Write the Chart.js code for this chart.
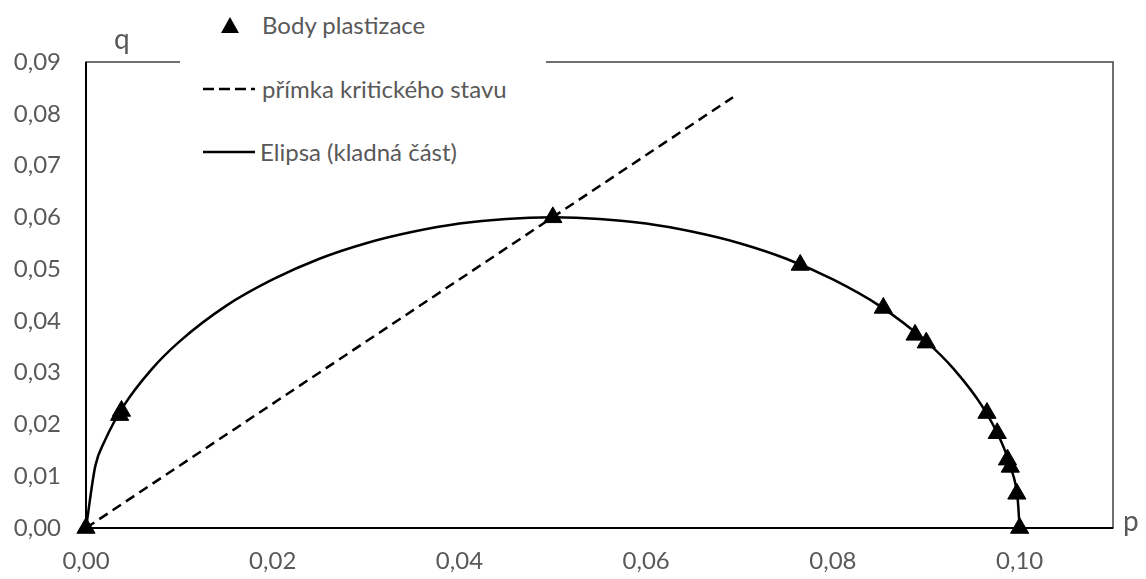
<!DOCTYPE html>
<html>
<head>
<meta charset="utf-8">
<script src="https://cdn.jsdelivr.net/npm/chart.js@4"></script>
<style>
  body { margin: 0; background: #fff; }
  #wrap { position: relative; width: 1146px; height: 579px; font-family: Lato, "Open Sans", sans-serif; color: #595959; }
  #legenda { position: absolute; left: 180px; top: 0; width: 366px; height: 176px; background: #fff; }
  .polozka { position: absolute; font-size: 24px; white-space: nowrap; line-height: 30px; height: 30px; }
  .vzorek { position: absolute; }
  .osa { position: absolute; font-size: 28px; line-height: 34px; }
</style>
</head>
<body>
<div id="wrap">
  <canvas id="graf" width="1146" height="579"></canvas>
  <div id="legenda"></div>
  <div class="osa" style="left:114px; top:21px;">q</div>
  <div class="osa" style="left:1123px; top:503px;">p</div>
</div>
<script>
// body plastizace (trojúhelníky)
const bodyP = [0, 0.0036, 0.0038, 0.05, 0.0765, 0.0854, 0.0888, 0.0900, 0.0965, 0.0976, 0.0987, 0.0990, 0.0997, 0.1];
const bodyQ = [0, 0.0218, 0.0226, 0.06, 0.0508, 0.0425, 0.0373, 0.0358, 0.0222, 0.0183, 0.0132, 0.0118, 0.0066, 0];

// přímka kritického stavu
const primkaP = [0, 0.0693];
const primkaQ = [0, 0.0832];

// elipsa (kladná část)
const elipsaP = [0, 0.001, 0.002, 0.004, 0.007, 0.01, 0.015, 0.02, 0.025, 0.03, 0.035, 0.04, 0.045, 0.05,
                 0.055, 0.06, 0.065, 0.07, 0.075, 0.08, 0.085, 0.09, 0.093, 0.096, 0.098, 0.099, 0.0998, 0.1];
const elipsaQ = [0, 0.012, 0.0168, 0.0235, 0.0306, 0.036, 0.0429, 0.048, 0.052, 0.055, 0.0572, 0.0588, 0.0597, 0.06,
                 0.0597, 0.0588, 0.0572, 0.055, 0.052, 0.048, 0.0429, 0.036, 0.0306, 0.0235, 0.0168, 0.0119, 0.0054, 0];

const xTicks = [0, 0.02, 0.04, 0.06, 0.08, 0.10];
const xTickLabels = ['0,00', '0,02', '0,04', '0,06', '0,08', '0,10'];
const yTicks = [0, 0.01, 0.02, 0.03, 0.04, 0.05, 0.06, 0.07, 0.08, 0.09];
const yTickLabels = ['0,00', '0,01', '0,02', '0,03', '0,04', '0,05', '0,06', '0,07', '0,08', '0,09'];

const nazvy = ['Body plastizace', 'přímka kritického stavu', 'Elipsa (kladná část)'];

function body(xs, ys) {
  return xs.map((x, i) => ({ x: x, y: ys[i] }));
}

// rámeček kolem plochy grafu
const ramecek = {
  id: 'ramecek',
  beforeDatasetsDraw(chart) {
    const a = chart.chartArea;
    const ctx = chart.ctx;
    ctx.save();
    ctx.strokeStyle = '#404040';
    ctx.lineWidth = 1.5;
    ctx.strokeRect(a.left, a.top, a.right - a.left, a.bottom - a.top);
    ctx.strokeStyle = '#000';
    ctx.lineWidth = 2;
    ctx.beginPath();
    ctx.moveTo(a.left, a.top);
    ctx.lineTo(a.left, a.bottom);
    ctx.lineTo(a.right, a.bottom);
    ctx.stroke();
    ctx.restore();
  }
};

const pismo = { family: 'Lato, "Open Sans", sans-serif', size: 24 };

new Chart(document.getElementById('graf'), {
  type: 'scatter',
  data: {
    datasets: [
      {
        label: nazvy[0],
        data: body(bodyP, bodyQ),
        pointStyle: 'triangle',
        pointRadius: 10.5,
        pointBackgroundColor: '#000',
        pointBorderColor: '#000',
        showLine: false,
        clip: false
      },
      {
        label: nazvy[1],
        data: body(primkaP, primkaQ),
        showLine: true,
        borderColor: '#000',
        borderWidth: 2.5,
        borderDash: [10, 6],
        pointRadius: 0
      },
      {
        label: nazvy[2],
        data: body(elipsaP, elipsaQ),
        showLine: true,
        borderColor: '#000',
        borderWidth: 2.5,
        cubicInterpolationMode: 'monotone',
        pointRadius: 0
      }
    ]
  },
  options: {
    responsive: false,
    animation: false,
    layout: { padding: { left: 0, top: 62, right: 33, bottom: 0 } },
    plugins: { legend: { display: false }, tooltip: { enabled: false } },
    scales: {
      x: {
        type: 'linear',
        min: 0,
        max: 0.11,
        afterBuildTicks: s => { s.ticks = xTicks.map(v => ({ value: v })); },
        afterFit: s => { s.height = 51; },
        grid: { display: false },
        border: { display: false },
        ticks: {
          padding: 11,
          color: '#595959',
          font: pismo,
          callback: (v, i) => xTickLabels[i]
        }
      },
      y: {
        min: 0,
        max: 0.09,
        afterBuildTicks: s => { s.ticks = yTicks.map(v => ({ value: v })); },
        afterFit: s => { s.width = 86; },
        grid: { display: false },
        border: { display: false },
        ticks: {
          padding: 17,
          color: '#595959',
          font: pismo,
          callback: (v, i) => yTickLabels[i]
        }
      }
    }
  },
  plugins: [ramecek]
});

// legenda
const legenda = document.getElementById('legenda');
const polozky = [
  { stred: 25, text: 82, svg: '<polygon points="50,7 59,23 41,23" fill="#000"/>' },
  { stred: 89, text: 82, svg: '<line x1="23" y1="15" x2="75" y2="15" stroke="#000" stroke-width="2.5" stroke-dasharray="11,5"/>' },
  { stred: 152, text: 80, svg: '<line x1="23" y1="15" x2="75" y2="15" stroke="#000" stroke-width="2.5"/>' }
];
polozky.forEach((p, i) => {
  const s = document.createElement('div');
  s.className = 'vzorek';
  s.style.left = '0px';
  s.style.top = (p.stred - 15) + 'px';
  s.innerHTML = '<svg width="80" height="30">' + p.svg + '</svg>';
  legenda.appendChild(s);
  const t = document.createElement('div');
  t.className = 'polozka';
  t.style.left = p.text + 'px';
  t.style.top = (p.stred - 15) + 'px';
  t.textContent = nazvy[i];
  legenda.appendChild(t);
});
</script>
</body>
</html>
